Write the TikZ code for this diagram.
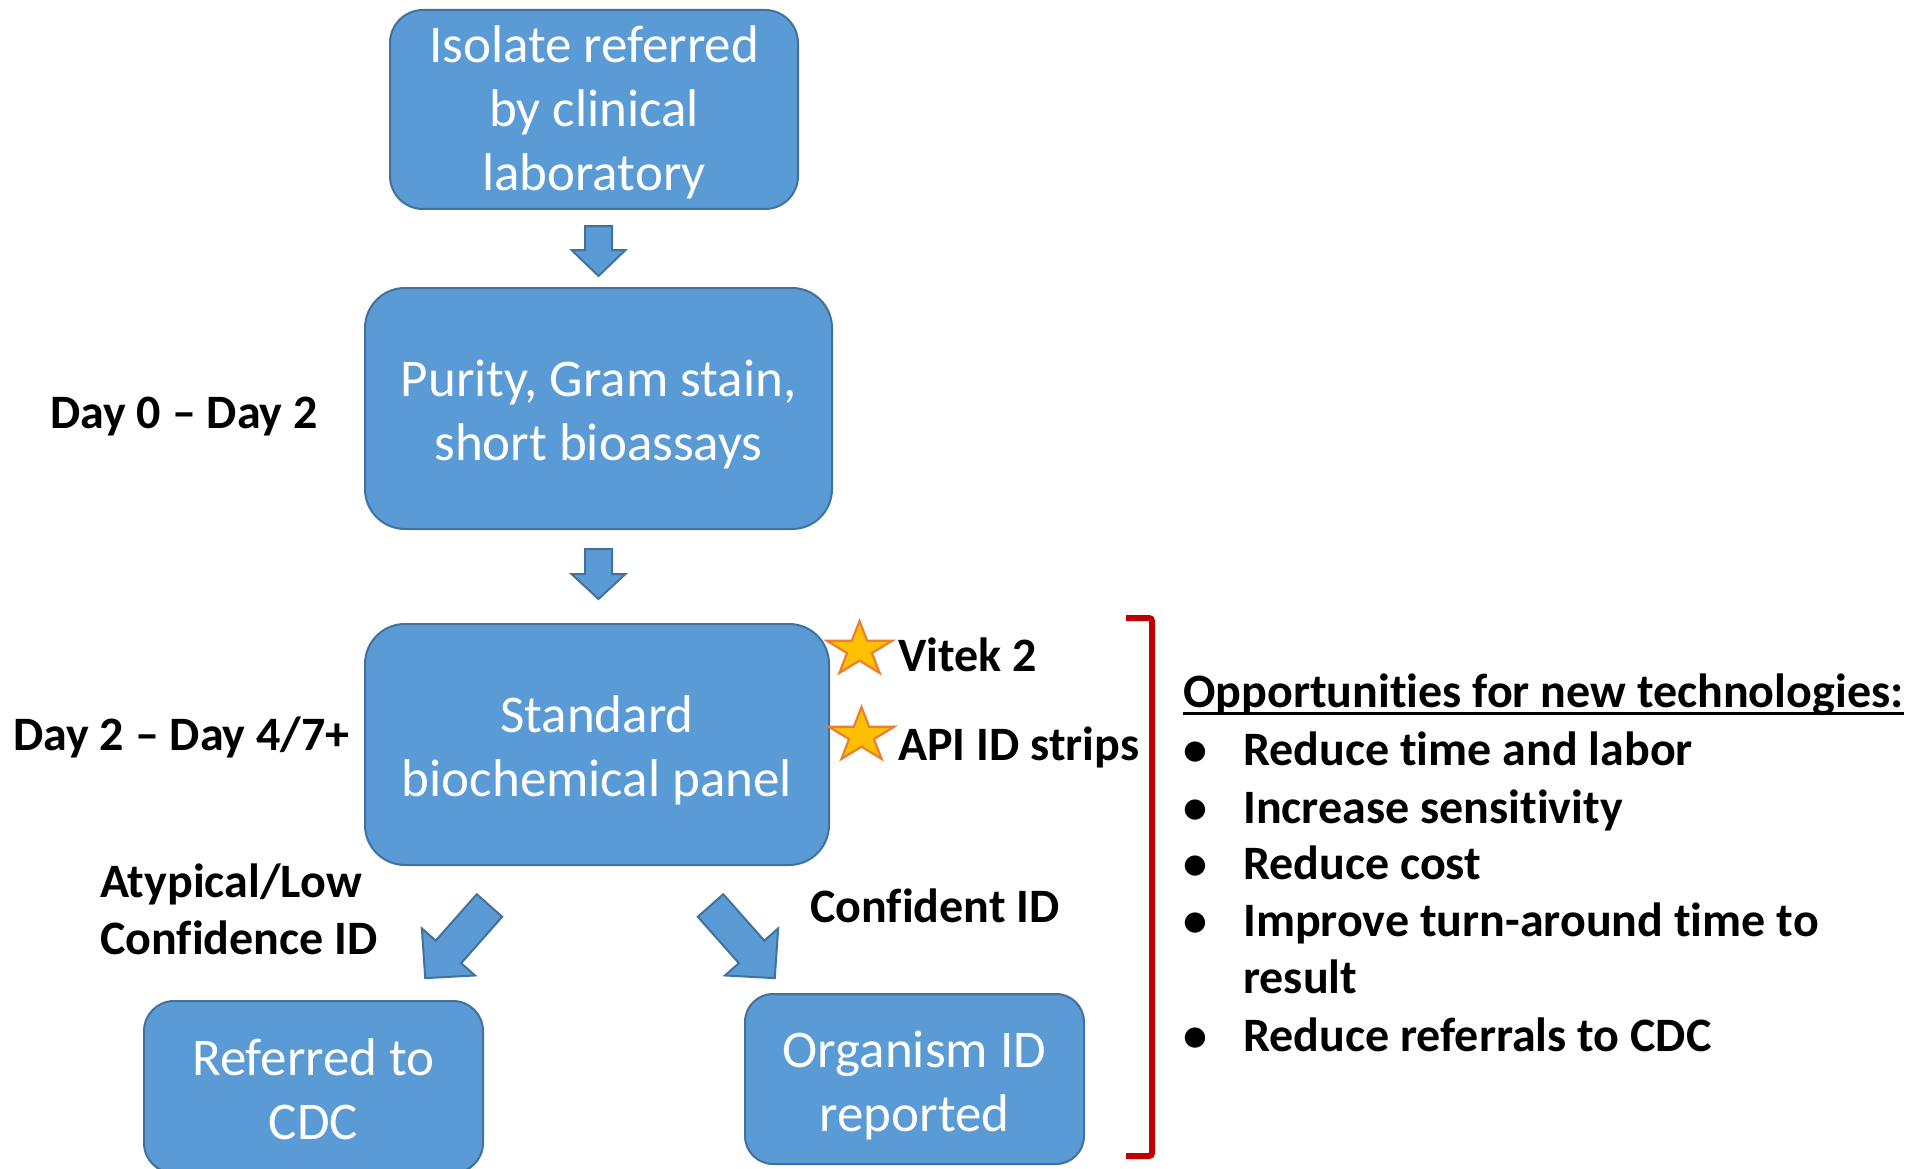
\documentclass[tikz,border=0pt]{standalone}
\usepackage{fontspec}
\setmainfont{Carlito}[Ligatures={TeX,NoCommon}]
\usetikzlibrary{calc}
\definecolor{boxfill}{HTML}{5B9BD5}
\definecolor{boxline}{HTML}{41719C}
\definecolor{starfill}{HTML}{FFC000}
\definecolor{starline}{HTML}{ED7D31}
\definecolor{brackred}{HTML}{C00000}
% invisible strut that lowers the first line of box text a little
\newcommand\boxstrut[1][50]{\rule{0pt}{#1pt}}
\tikzset{
  stepbox/.style={draw=boxline, fill=boxfill, line width=2pt, rounded corners=#1,
    text=white, align=center, inner sep=0pt, font=\fontsize{53}{64}\selectfont},
  lbl/.style={font=\fontsize{48}{57}\selectfont\bfseries, inner sep=0pt, anchor=base west},
  arrowbody/.style={draw=boxline, fill=boxfill, line width=2pt, line join=miter},
  starbody/.style={draw=starline, fill=starfill, line width=2.2pt, line join=miter},
  % block arrow pointing down from its tail midpoint:
  % shaft half-width, head half-width, head length, total length
  pics/blockarrow/.style n args={4}{code={
    \draw[arrowbody] (-#1,0) -- (#1,0) -- (#1,#4-#3) -- (#2,#4-#3) -- (0,#4)
      -- (-#2,#4-#3) -- (-#1,#4-#3) -- cycle;
  }},
  pics/goldstar/.style={code={
    \draw[starbody] (270:34.2 and 28.7) -- (306:13.1 and 11) -- (342:34.2 and 28.7)
      -- (18:13.1 and 11) -- (54:34.2 and 28.7) -- (90:13.1 and 11)
      -- (126:34.2 and 28.7) -- (162:13.1 and 11) -- (198:34.2 and 28.7)
      -- (234:13.1 and 11) -- cycle;
  }}
}
\begin{document}
\begin{tikzpicture}[x=1pt,y=-1pt]
\useasboundingbox (0,0) rectangle (1908,1169);

% process boxes
\node[stepbox=33, minimum width=408, minimum height=199] (iso) at (594,109.5)
  {\boxstrut[43]Isolate referred\\by clinical\\laboratory};
\node[stepbox=40, minimum width=467, minimum height=241] (pur) at (598.5,408.5)
  {\boxstrut[48]Purity, Gram stain,\\short bioassays};
\node[stepbox=40, minimum width=464, minimum height=241] (bio) at (597,744.5)
  {\boxstrut[49]Standard\\biochemical panel};
\node[stepbox=30, minimum width=339, minimum height=172] (cdc) at (313.5,1087)
  {\boxstrut[41]Referred to\\CDC};
\node[stepbox=28, minimum width=339, minimum height=170] (rep) at (914.5,1079)
  {\boxstrut[50]Organism ID\\reported};

% block arrows between the boxes
\pic at (598.5,226) {blockarrow={13.5}{27}{26}{50}};
\pic at (598.5,549) {blockarrow={13.5}{27}{25}{50}};
\pic[rotate=-41.5] at (489.5,905.5) {blockarrow={17}{35.5}{35}{97}};
\pic[rotate=41.5] at (710.5,905.5) {blockarrow={17}{35.5}{35}{97}};

% timing labels
\node[lbl] (t1) at (50,428) {Day 0 – Day 2};
\node[lbl] (t2) at (13,750) {Day 2 – Day 4/7+};

% outcome labels
\node[lbl, align=left] (low) at (100,954) {Atypical/Low\\Confidence ID};
\node[lbl] (conf) at (810,922) {Confident ID};

% automated systems
\pic at (859.5,649.7) {goldstar};
\pic at (861.5,735.7) {goldstar};
\node[lbl] (vitek) at (898,671) {Vitek 2};
\node[lbl] (api) at (898,760) {API ID strips};

% bracket
\draw[brackred, line width=6pt, rounded corners=3pt]
  (1126,618) -- (1152,618) -- (1152,1156) -- (1126,1156);

% opportunities list
\node[lbl] (head) at (1183,707) {Opportunities for new technologies:};
\draw[line width=3pt] ([yshift=-6pt]head.base west) -- ([yshift=-6pt]head.base east);
\foreach \y/\t [count=\i] in {765/Reduce time and labor, 823/Increase sensitivity,
    879/Reduce cost, 936/Improve turn-around time to, 1051/Reduce referrals to CDC}{
  \node[lbl] (b\i) at (1183,\y) {•};
  \node[lbl] (o\i) at (1243,\y) {\t};
}
\node[lbl] (o6) at (1243,993) {result};
\end{tikzpicture}
\end{document}
